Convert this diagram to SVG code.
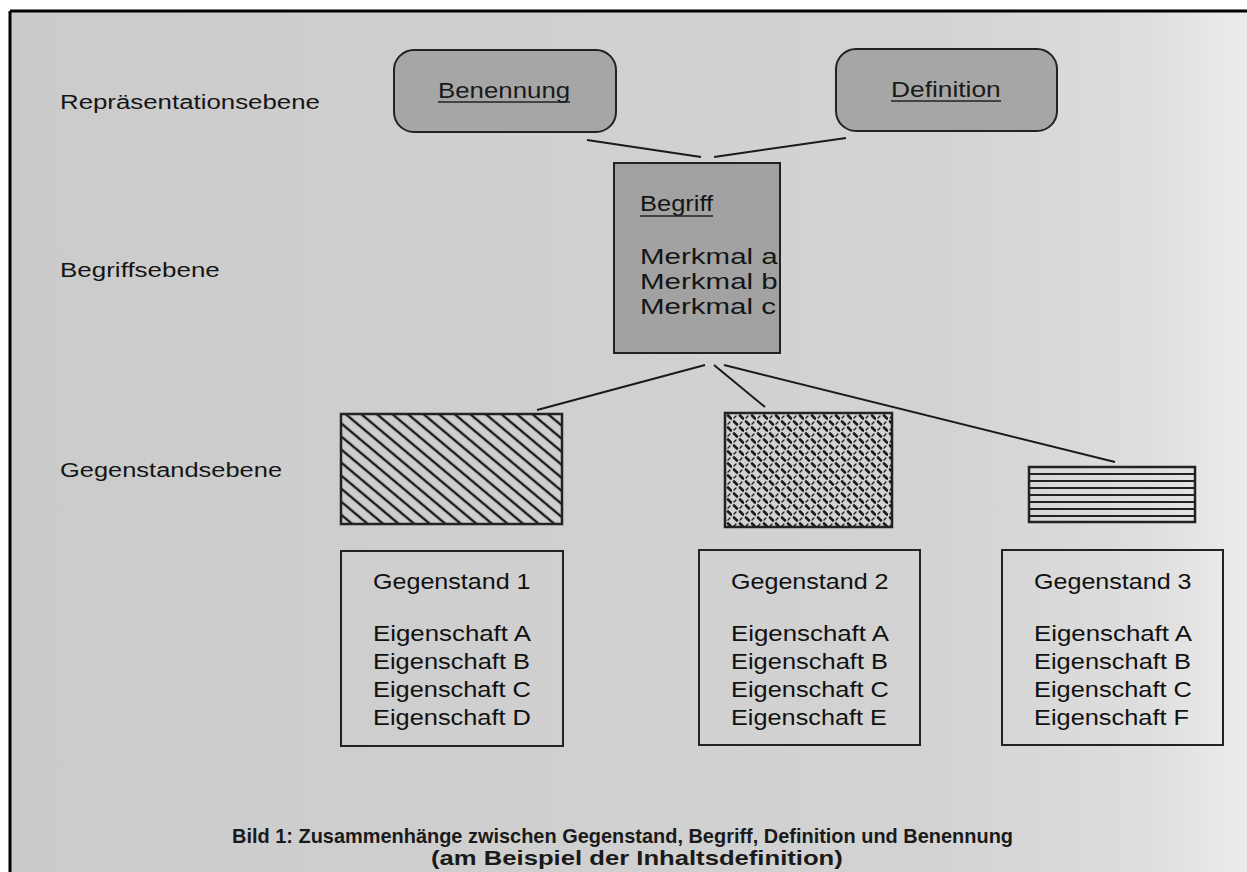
<svg xmlns="http://www.w3.org/2000/svg" width="1247" height="872" viewBox="0 0 1247 872">
<defs>
<linearGradient id="paper" x1="0" y1="0" x2="1" y2="0">
<stop offset="0" stop-color="#cbcbcb"/>
<stop offset="0.75" stop-color="#d3d3d3"/>
<stop offset="0.92" stop-color="#dedede"/>
<stop offset="1" stop-color="#ececec"/>
</linearGradient>
<pattern id="diag" width="10" height="10" patternUnits="userSpaceOnUse" patternTransform="rotate(40)">
<line x1="0" y1="5" x2="10" y2="5" stroke="#1a1a1a" stroke-width="2.4"/>
</pattern>
<pattern id="herring" width="12" height="12" patternUnits="userSpaceOnUse">
<line x1="2" y1="1.5" x2="5" y2="4.5" stroke="#1a1a1a" stroke-width="2.6" stroke-linecap="round"/>
<line x1="8" y1="7.5" x2="11" y2="10.5" stroke="#1a1a1a" stroke-width="2.6" stroke-linecap="round"/>
<line x1="8" y1="4" x2="10" y2="2" stroke="#1a1a1a" stroke-width="1.3" stroke-linecap="round"/>
<line x1="2" y1="10" x2="4" y2="8" stroke="#1a1a1a" stroke-width="1.3" stroke-linecap="round"/>
</pattern>
<style>
.lbl{font-family:"Liberation Sans",Arial,sans-serif;font-size:21px;fill:#151515}
.top-t{font-family:"Liberation Sans",Arial,sans-serif;font-size:23px;fill:#1a1a1a}
.txt{font-family:"Liberation Sans",Arial,sans-serif;font-size:22px;fill:#151515}
.big{font-family:"Liberation Sans",Arial,sans-serif;font-size:22px;fill:#111}
.cap{font-family:"Liberation Sans",Arial,sans-serif;font-size:20px;font-weight:bold;fill:#1a1a1a}
.top{fill:#a6a6a6;stroke:#222;stroke-width:2}
.box{fill:none;stroke:#222;stroke-width:2}
.ul{stroke:#222;stroke-width:1.6}
.con line{stroke:#1a1a1a;stroke-width:2}
</style>
</defs>
<rect x="0" y="0" width="1247" height="872" fill="#ffffff"/>
<rect x="10" y="11" width="1237" height="861" fill="url(#paper)"/>
<line x1="10" y1="11" x2="1247" y2="11" stroke="#000" stroke-width="3"/>
<line x1="10" y1="11" x2="10" y2="872" stroke="#000" stroke-width="3"/>

<g id="labels">
<text class="lbl" transform="translate(60 109) scale(1.22 1)" textLength="213" lengthAdjust="spacingAndGlyphs">Repräsentationsebene</text>
<text class="lbl" transform="translate(60 277) scale(1.22 1)" textLength="131" lengthAdjust="spacingAndGlyphs">Begriffsebene</text>
<text class="lbl" transform="translate(60 477) scale(1.22 1)" textLength="182" lengthAdjust="spacingAndGlyphs">Gegenstandsebene</text>
</g>

<g class="con" id="connectors">
<line x1="587" y1="140" x2="701" y2="157"/>
<line x1="846" y1="138" x2="714" y2="157"/>
<line x1="705" y1="365" x2="537" y2="410"/>
<line x1="714" y1="365" x2="765" y2="407"/>
<line x1="724" y1="365" x2="1115" y2="462"/>
</g>

<g id="benennung">
<rect class="top" x="394" y="50" width="222" height="82" rx="20"/>
<text class="top-t" transform="translate(438 98) scale(1.12 1)" textLength="118" lengthAdjust="spacingAndGlyphs">Benennung</text>
<line class="ul" x1="438" y1="102" x2="570" y2="102"/>
</g>

<g id="definition">
<rect class="top" x="836" y="49" width="221" height="82" rx="20"/>
<text class="top-t" transform="translate(891 97) scale(1.12 1)" textLength="98" lengthAdjust="spacingAndGlyphs">Definition</text>
<line class="ul" x1="891" y1="101" x2="1001" y2="101"/>
</g>

<g id="begriff">
<rect x="614" y="163" width="166" height="190" fill="#a2a2a2" stroke="#222" stroke-width="2"/>
<text class="txt" transform="translate(640 211) scale(1.2 1)" textLength="61" lengthAdjust="spacingAndGlyphs">Begriff</text>
<line class="ul" x1="640" y1="216" x2="713" y2="216"/>
<text class="txt" transform="translate(640 264) scale(1.3 1)" textLength="106" lengthAdjust="spacingAndGlyphs">Merkmal a</text>
<text class="txt" transform="translate(640 289) scale(1.3 1)" textLength="106" lengthAdjust="spacingAndGlyphs">Merkmal b</text>
<text class="txt" transform="translate(640 314) scale(1.3 1)" textLength="104.6" lengthAdjust="spacingAndGlyphs">Merkmal c</text>
</g>

<g id="muster1">
<rect x="341" y="414" width="221" height="110" fill="url(#diag)" stroke="#222" stroke-width="2.5"/>
</g>
<g id="muster2">
<rect x="725" y="413" width="167" height="114" fill="url(#herring)" stroke="#222" stroke-width="2.5"/>
</g>
<g id="muster3">
<rect x="1029" y="467" width="166" height="55" fill="none" stroke="#222" stroke-width="2.5"/>
<g stroke="#222" stroke-width="2">
<line x1="1029" y1="474" x2="1195" y2="474"/>
<line x1="1029" y1="481" x2="1195" y2="481"/>
<line x1="1029" y1="488" x2="1195" y2="488"/>
<line x1="1029" y1="495" x2="1195" y2="495"/>
<line x1="1029" y1="502" x2="1195" y2="502"/>
<line x1="1029" y1="509" x2="1195" y2="509"/>
<line x1="1029" y1="516" x2="1195" y2="516"/>
</g>
</g>

<g id="gegenstand1">
<rect class="box" x="341" y="551" width="222" height="195"/>
<text class="big" transform="translate(373 589) scale(1.15 1)" textLength="137" lengthAdjust="spacingAndGlyphs">Gegenstand 1</text>
<text class="big" transform="translate(373 641) scale(1.17 1)" textLength="135" lengthAdjust="spacingAndGlyphs">Eigenschaft A</text>
<text class="big" transform="translate(373 669) scale(1.17 1)" textLength="134.2" lengthAdjust="spacingAndGlyphs">Eigenschaft B</text>
<text class="big" transform="translate(373 697) scale(1.17 1)" textLength="135" lengthAdjust="spacingAndGlyphs">Eigenschaft C</text>
<text class="big" transform="translate(373 725) scale(1.17 1)" textLength="135" lengthAdjust="spacingAndGlyphs">Eigenschaft D</text>
</g>

<g id="gegenstand2">
<rect class="box" x="699" y="550" width="221" height="195"/>
<text class="big" transform="translate(731 589) scale(1.15 1)" textLength="137" lengthAdjust="spacingAndGlyphs">Gegenstand 2</text>
<text class="big" transform="translate(731 641) scale(1.17 1)" textLength="135" lengthAdjust="spacingAndGlyphs">Eigenschaft A</text>
<text class="big" transform="translate(731 669) scale(1.17 1)" textLength="134.2" lengthAdjust="spacingAndGlyphs">Eigenschaft B</text>
<text class="big" transform="translate(731 697) scale(1.17 1)" textLength="135" lengthAdjust="spacingAndGlyphs">Eigenschaft C</text>
<text class="big" transform="translate(731 725) scale(1.17 1)" textLength="133.3" lengthAdjust="spacingAndGlyphs">Eigenschaft E</text>
</g>

<g id="gegenstand3">
<rect class="box" x="1002" y="550" width="221" height="195"/>
<text class="big" transform="translate(1034 589) scale(1.15 1)" textLength="137" lengthAdjust="spacingAndGlyphs">Gegenstand 3</text>
<text class="big" transform="translate(1034 641) scale(1.17 1)" textLength="135" lengthAdjust="spacingAndGlyphs">Eigenschaft A</text>
<text class="big" transform="translate(1034 669) scale(1.17 1)" textLength="134.2" lengthAdjust="spacingAndGlyphs">Eigenschaft B</text>
<text class="big" transform="translate(1034 697) scale(1.17 1)" textLength="135" lengthAdjust="spacingAndGlyphs">Eigenschaft C</text>
<text class="big" transform="translate(1034 725) scale(1.17 1)" textLength="132.5" lengthAdjust="spacingAndGlyphs">Eigenschaft F</text>
</g>

<g id="caption">
<text class="cap" transform="translate(232 843) scale(0.88 1)" textLength="887.5" lengthAdjust="spacingAndGlyphs">Bild 1:  Zusammenhänge zwischen Gegenstand, Begriff, Definition und Benennung</text>
<text class="cap" transform="translate(431 865) scale(0.88 1)" textLength="468" lengthAdjust="spacingAndGlyphs">(am Beispiel der Inhaltsdefinition)</text>
</g>
</svg>
